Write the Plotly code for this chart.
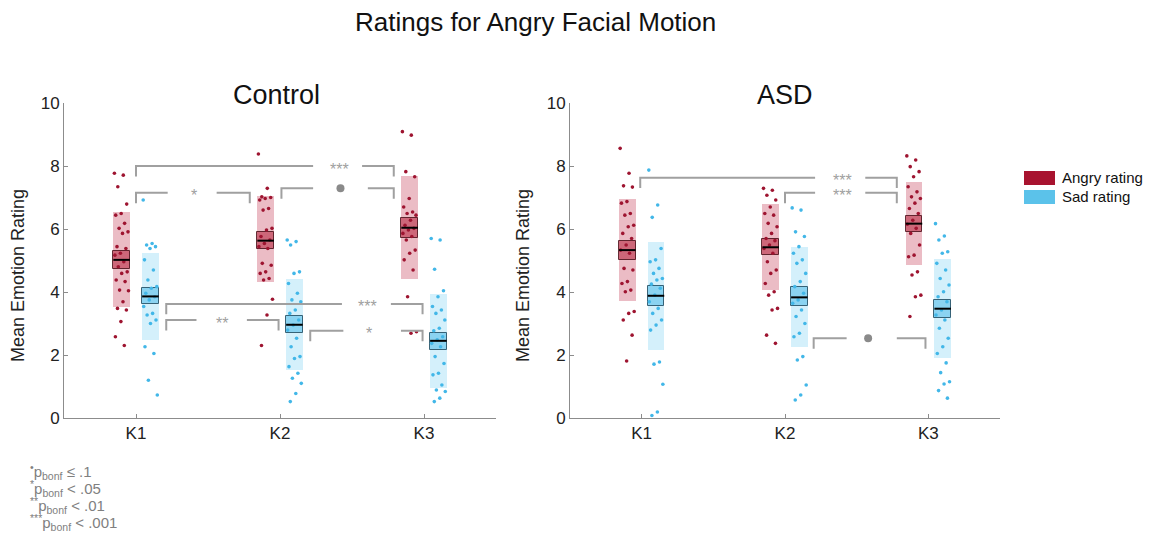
import plotly.graph_objects as go

# ---------------- data ----------------
conditions = ["K1", "K2", "K3"]
groups = ["Control", "ASD"]
y_title = "Mean Emotion Rating"

ctrl_angry_k1 = [7.77, 7.71, 7.34, 6.79, 6.49, 6.44, 6.18, 6.02, 5.91, 5.86, 5.44, 5.38, 5.23, 5.17, 4.96,
                 4.80, 4.64, 4.59, 4.38, 4.33, 4.06, 4.04, 3.69, 3.48, 3.43, 3.06, 2.58, 2.30]
ctrl_sad_k1 = [6.92, 5.54, 5.49, 5.44, 5.38, 5.02, 4.70, 4.38, 4.17, 4.12, 3.96, 3.85, 3.75, 3.54, 3.32,
               3.27, 3.11, 3.00, 2.26, 2.05, 1.20, 0.73]
ctrl_angry_k2 = [8.38, 7.29, 7.02, 7.00, 6.97, 6.92, 6.65, 6.60, 6.02, 5.97, 5.76, 5.65, 5.54, 5.44, 5.38,
                 4.91, 4.85, 4.64, 4.59, 4.43, 4.38, 3.77, 3.27, 2.30]
ctrl_sad_k2 = [5.65, 5.60, 5.49, 4.64, 4.59, 4.27, 3.96, 3.75, 3.69, 3.43, 3.32, 3.11, 2.95, 2.79, 2.53,
               2.26, 1.95, 1.89, 1.63, 1.42, 1.26, 1.10, 0.78, 0.52]
ctrl_angry_k3 = [9.09, 8.98, 7.82, 7.66, 6.97, 6.70, 6.54, 6.49, 6.44, 6.28, 6.12, 6.02, 5.97, 5.86, 5.76,
                 5.65, 5.33, 5.23, 5.02, 4.70, 3.85, 2.74, 2.69]
ctrl_sad_k3 = [5.70, 5.65, 4.72, 4.04, 3.85, 3.54, 3.43, 3.32, 3.11, 2.85, 2.77, 2.58, 2.48, 2.37, 2.26,
               1.95, 1.73, 1.42, 1.37, 1.05, 0.89, 0.84, 0.63, 0.52]

asd_angry_k1 = [8.56, 7.77, 7.37, 7.33, 6.87, 6.82, 6.49, 6.44, 6.12, 6.07, 5.86, 5.70, 5.49, 5.33, 5.23,
                4.75, 4.70, 4.33, 4.27, 4.06, 4.01, 3.38, 3.32, 3.11, 2.63, 1.81]
asd_sad_k1 = [7.87, 6.76, 6.37, 5.38, 5.02, 4.96, 4.75, 4.59, 4.43, 4.38, 4.25, 4.12, 3.90, 3.69, 3.48,
              3.32, 3.11, 2.95, 2.79, 1.78, 1.71, 1.07, 0.19, 0.08]
asd_angry_k2 = [7.29, 7.23, 7.07, 6.92, 6.70, 6.49, 6.44, 6.18, 6.07, 5.86, 5.70, 5.63, 5.49, 5.38, 5.23,
                4.96, 4.70, 4.59, 4.27, 4.01, 3.90, 3.48, 3.43, 2.63, 2.37]
asd_sad_k2 = [6.67, 6.60, 5.91, 5.76, 5.44, 5.23, 5.02, 4.91, 4.59, 4.33, 4.17, 3.96, 3.75, 3.64, 3.43,
              3.22, 3.00, 2.69, 2.58, 1.95, 1.84, 1.05, 0.73, 0.57]
asd_angry_k3 = [8.32, 8.19, 7.98, 7.82, 7.66, 7.34, 7.18, 7.02, 6.97, 6.82, 6.65, 6.49, 6.28, 6.15, 6.02,
                5.86, 5.49, 5.17, 5.12, 4.64, 4.54, 3.90, 3.85, 3.22]
asd_sad_k3 = [6.17, 5.78, 5.65, 5.28, 5.23, 4.91, 4.70, 4.43, 4.22, 4.01, 3.85, 3.69, 3.43, 3.27, 3.11,
              2.85, 2.53, 2.26, 2.05, 1.75, 1.44, 1.15, 1.08, 0.87, 0.63]

# summary values (mean, SEM low/high, SD low/high)
ctrl_angry_mean = [5.02, 5.63, 6.04]
ctrl_angry_sem = [(4.72, 5.31), (5.38, 5.89), (5.72, 6.35)]
ctrl_angry_sd = [(3.53, 6.53), (4.33, 7.05), (4.40, 7.67)]
ctrl_sad_mean = [3.86, 2.96, 2.45]
ctrl_sad_sem = [(3.62, 4.12), (2.69, 3.24), (2.17, 2.71)]
ctrl_sad_sd = [(2.49, 5.23), (1.52, 4.41), (0.95, 3.94)]

asd_angry_mean = [5.33, 5.42, 6.17]
asd_angry_sem = [(5.02, 5.62), (5.17, 5.67), (5.91, 6.41)]
asd_angry_sd = [(3.71, 6.94), (4.06, 6.79), (4.86, 7.50)]
asd_sad_mean = [3.88, 3.83, 3.47]
asd_sad_sem = [(3.55, 4.19), (3.54, 4.15), (3.19, 3.75)]
asd_sad_sd = [(2.17, 5.59), (2.26, 5.44), (1.90, 5.04)]

# significance brackets: (x_left, x_right, y, label, gap_left, gap_right, label_x)
ctrl_brackets = [
    (1.00, 2.79, 8.00, "***", 2.23, 2.57, 2.41),
    (1.00, 1.79, 7.15, "*", 1.22, 1.56, 1.40),
    (2.01, 2.79, 7.29, "•", 2.23, 2.61, 2.42),
    (1.21, 2.99, 3.62, "***", 2.43, 2.77, 2.61),
    (1.21, 1.99, 3.11, "**", 1.42, 1.77, 1.60),
    (2.21, 2.99, 2.77, "*", 2.44, 2.84, 2.62),
]
asd_brackets = [
    (0.99, 2.78, 7.63, "***", 2.21, 2.56, 2.40),
    (2.00, 2.78, 7.15, "***", 2.21, 2.56, 2.40),
    (2.20, 2.98, 2.53, "•", 2.43, 2.78, 2.58),
]

footnotes = ["<sup>•</sup>p<sub>bonf</sub> ≤ .1", "<sup>*</sup>p<sub>bonf</sub> < .05",
             "<sup>**</sup>p<sub>bonf</sub> < .01", "<sup>***</sup>p<sub>bonf</sub> < .001"]

# ---------------- styling ----------------
FONT = "Liberation Sans, Arial, Helvetica, sans-serif"
ANGRY_PT = "#9e1430"
ANGRY_SD = "#ebbcc5"
ANGRY_SEM = "#c8596c"
ANGRY_EDGE = "#4a0a14"
SAD_PT = "#42b7e8"
SAD_SD = "#d4f0fb"
SAD_SEM = "#7fcff0"
SAD_EDGE = "#1b4a60"
GRAY = "#a0a0a0"
OFF = 0.1
BW = 0.115

fig = go.Figure()


def jitter(n, w=0.05):
    return [(((i * 0.6180339) % 1.0) - 0.5) * 2 * w for i in range(n)]


def add_group(xa, ya, pts_list, means, sems, sds, offset, pcol, sdcol, semcol, edge):
    for k in range(3):
        xc = k + 1 + offset
        lo, hi = sds[k]
        fig.add_trace(go.Bar(x=[xc], y=[hi - lo], base=[lo], width=BW, marker_color=sdcol,
                             marker_line_width=0, xaxis=xa, yaxis=ya, showlegend=False, hoverinfo="skip"))
        lo, hi = sems[k]
        fig.add_trace(go.Bar(x=[xc], y=[hi - lo], base=[lo], width=BW, marker_color=semcol,
                             marker_line_color=edge, marker_line_width=1, opacity=0.85,
                             xaxis=xa, yaxis=ya, showlegend=False, hoverinfo="skip"))
    for k in range(3):
        xc = k + 1 + offset
        pts = pts_list[k]
        js = jitter(len(pts))
        fig.add_trace(go.Scatter(x=[xc + j for j in js], y=pts, mode="markers",
                                 marker=dict(size=3.6, color=pcol), xaxis=xa, yaxis=ya,
                                 showlegend=False, hoverinfo="skip"))
    for k in range(3):
        xc = k + 1 + offset
        fig.add_trace(go.Scatter(x=[xc - BW / 2, xc + BW / 2], y=[means[k], means[k]], mode="lines",
                                 line=dict(color="black", width=2), xaxis=xa, yaxis=ya,
                                 showlegend=False, hoverinfo="skip"))


def add_brackets(xa, ya, brs):
    xs, ys = [], []
    for (x1, x2, y, lab, g1, g2, lx) in brs:
        leg = 0.33
        xs += [x1, x1, g1, None, g2, x2, x2, None]
        ys += [y - leg, y, y, None, y, y, y - leg, None]
    fig.add_trace(go.Scatter(x=xs, y=ys, mode="lines", line=dict(color=GRAY, width=2),
                             xaxis=xa, yaxis=ya, showlegend=False, hoverinfo="skip"))
    for (x1, x2, y, lab, g1, g2, lx) in brs:
        if lab == "•":
            fig.add_trace(go.Scatter(x=[lx], y=[y], mode="markers",
                                     marker=dict(size=8, color="#8a8a8a"),
                                     xaxis=xa, yaxis=ya, showlegend=False, hoverinfo="skip"))
        else:
            fig.add_annotation(x=lx, y=y, xref=xa, yref=ya, text=lab, showarrow=False,
                               yanchor="middle", xanchor="center",
                               font=dict(family=FONT, size=16, color=GRAY), yshift=-3)


add_group("x", "y", [ctrl_angry_k1, ctrl_angry_k2, ctrl_angry_k3], ctrl_angry_mean, ctrl_angry_sem,
          ctrl_angry_sd, -OFF, ANGRY_PT, ANGRY_SD, ANGRY_SEM, ANGRY_EDGE)
add_group("x", "y", [ctrl_sad_k1, ctrl_sad_k2, ctrl_sad_k3], ctrl_sad_mean, ctrl_sad_sem,
          ctrl_sad_sd, OFF, SAD_PT, SAD_SD, SAD_SEM, SAD_EDGE)
add_group("x2", "y2", [asd_angry_k1, asd_angry_k2, asd_angry_k3], asd_angry_mean, asd_angry_sem,
          asd_angry_sd, -OFF, ANGRY_PT, ANGRY_SD, ANGRY_SEM, ANGRY_EDGE)
add_group("x2", "y2", [asd_sad_k1, asd_sad_k2, asd_sad_k3], asd_sad_mean, asd_sad_sem,
          asd_sad_sd, OFF, SAD_PT, SAD_SD, SAD_SEM, SAD_EDGE)
add_brackets("x", "y", ctrl_brackets)
add_brackets("x2", "y2", asd_brackets)

W, H = 1149, 541
axis_common = dict(showgrid=False, zeroline=False, showline=True, linecolor="#8c8c8c", linewidth=1,
                   ticks="inside", ticklen=4, tickcolor="#8c8c8c", automargin=False,
                   tickfont=dict(family=FONT, size=17, color="#222"))
xcommon = dict(axis_common, range=[0.5, 3.5], tickmode="array", tickvals=[1, 2, 3], ticktext=conditions)
ycommon = dict(axis_common, range=[0, 10], tickvals=[0, 2, 4, 6, 8, 10])

ydom = [1 - 418 / H, 1 - 103 / H]
fig.update_layout(
    width=W, height=H, margin=dict(l=0, r=0, t=0, b=0, autoexpand=False),
    paper_bgcolor="white", plot_bgcolor="white", barmode="overlay", bargap=0,
    showlegend=False,
    xaxis=dict(xcommon, domain=[64 / W, 496 / W], anchor="y"),
    yaxis=dict(ycommon, domain=ydom, anchor="x"),
    xaxis2=dict(xcommon, domain=[570 / W, 1000 / W], anchor="y2"),
    yaxis2=dict(ycommon, domain=ydom, anchor="x2"),
)

# y-axis titles (placed as rotated text, slightly below the axis centre as in the reference)
for tx in [18, 523]:
    fig.add_annotation(x=tx / W, y=1 - 276 / H, xref="paper", yref="paper", text=y_title, textangle=-90,
                       showarrow=False, xanchor="center", yanchor="middle",
                       font=dict(family=FONT, size=18, color="#222"))

# titles
fig.add_annotation(x=535 / W, y=1 - 22 / H, xref="paper", yref="paper", text="Ratings for Angry Facial Motion",
                   showarrow=False, xanchor="center", yanchor="middle",
                   font=dict(family=FONT, size=26, color="#111"))
for txt, cx in zip(groups, [276, 785]):
    fig.add_annotation(x=cx / W, y=1 - 95 / H, xref="paper", yref="paper", text=txt, showarrow=False,
                       xanchor="center", yanchor="middle", font=dict(family=FONT, size=27, color="#111"))

# legend (drawn manually)
for i, (lab, col) in enumerate([("Angry rating", "#a8132f"), ("Sad rating", "#5bc2ea")]):
    yc = 178 + i * 19
    fig.add_shape(type="rect", xref="paper", yref="paper", x0=1024 / W, x1=1055 / W,
                  y0=1 - (yc + 7) / H, y1=1 - (yc - 7) / H, fillcolor=col, line_width=0)
    fig.add_annotation(x=1060 / W, y=1 - yc / H, xref="paper", yref="paper", text=lab, showarrow=False,
                       xanchor="left", yanchor="middle", font=dict(family=FONT, size=15, color="#111"))

# footnotes
for i, t in enumerate(footnotes):
    fig.add_annotation(x=28 / W, y=1 - (471 + i * 17) / H, xref="paper", yref="paper", text=t,
                       showarrow=False, xanchor="left", yanchor="middle",
                       font=dict(family=FONT, size=15, color="#808080"))

fig.write_html("out.html")
